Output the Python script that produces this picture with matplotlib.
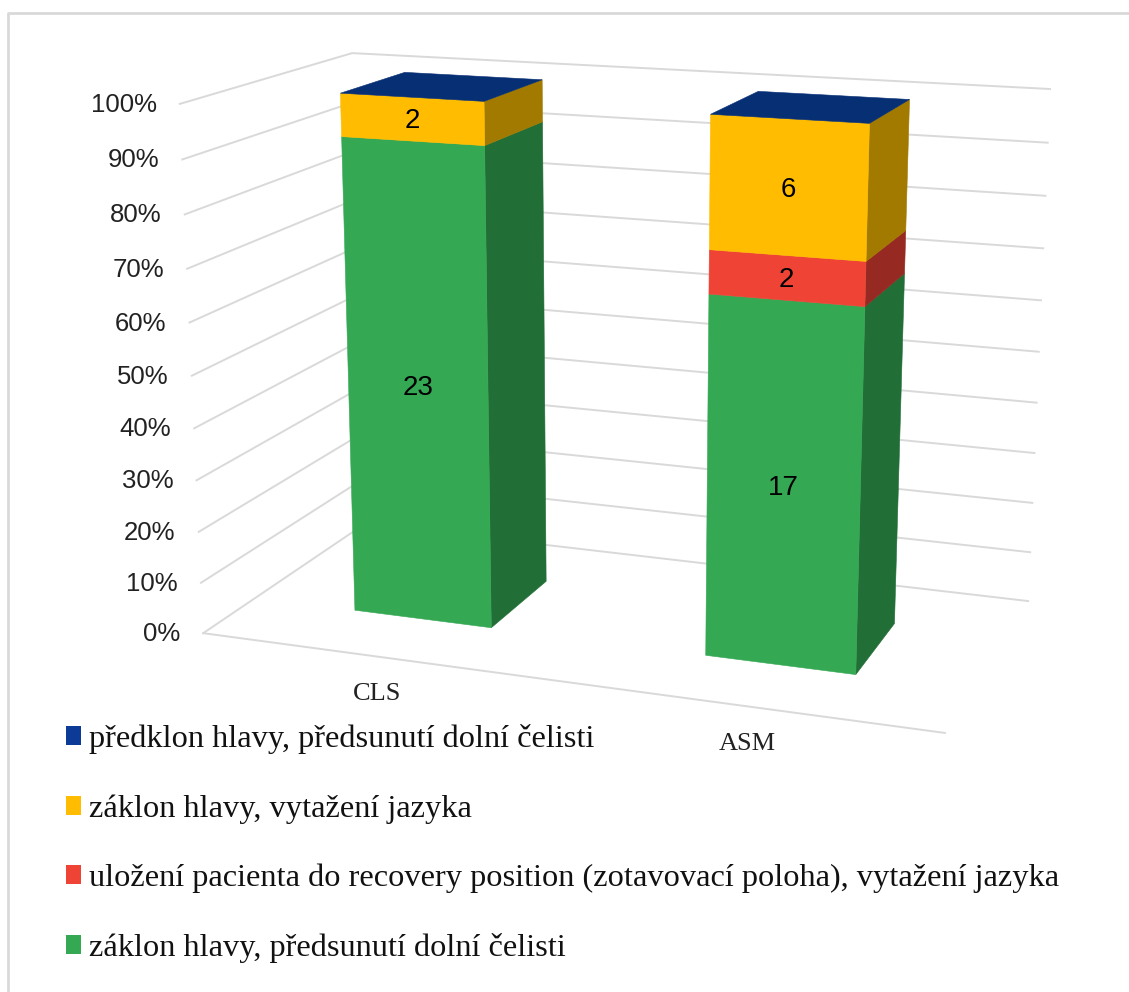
import numpy as np
from matplotlib import pyplot as plt
from matplotlib.patches import Patch

categories = ['CLS', 'ASM']
series_names = [
    'záklon hlavy, předsunutí dolní čelisti',
    'uložení pacienta do recovery position (zotavovací poloha), vytažení jazyka',
    'záklon hlavy, vytažení jazyka',
    'předklon hlavy, předsunutí dolní čelisti',
]
green_counts = [23, 17]
red_counts = [0, 2]
yellow_counts = [2, 6]
blue_counts = [0, 0]
tick_values = [0, 10, 20, 30, 40, 50, 60, 70, 80, 90, 100]

front_colors = ['#34A853', '#EE4335', '#FFBC00', '#0B3A97']
side_colors = ['#226E37', '#962A22', '#A27A00', '#072F74']
grid_color = '#D9D9D9'

# box corners (x, depth, percent) and where they land on the canvas, used to fit the camera
world_frame = [(0, 0, 0), (0, 0, 100), (0, 1, 100), (1, 1, 100), (1, 1, 0), (1, 0, 0), (0, 1, 0)]
canvas_frame = [(203, 633), (180, 104), (352, 53), (1050, 89), (1028, 601), (945, 733), (365, 524)]


def fit_camera(world, canvas):
    rows = []
    for (x, y, z), (u, v) in zip(world, canvas):
        p = [x, y, z / 100, 1]
        rows.append(p + [0, 0, 0, 0] + [-u * c for c in p])
        rows.append([0, 0, 0, 0] + p + [-v * c for c in p])
    return np.linalg.svd(np.array(rows, dtype=float))[2][-1].reshape(3, 4)


camera = fit_camera(world_frame, canvas_frame)


def project(x, y, z):
    u, v, w = camera @ np.array([x, y, z / 100, 1.0])
    return u / w, v / w


def draw_face(ax, corners, color):
    pts = [project(*c) for c in corners]
    ax.fill([p[0] for p in pts], [p[1] for p in pts], color=color, lw=0.4, zorder=3)


plt.rcParams['font.family'] = ['Liberation Sans', 'DejaVu Sans']

fig = plt.figure(figsize=(11.29, 9.92), dpi=100)
ax = fig.add_axes([0, 0, 1, 1])
ax.set_xlim(0, 1129)
ax.set_ylim(992, 0)
ax.axis('off')

# outer frame, open on the right and at the bottom
ax.plot([8, 8, 1129], [992, 13, 13], color=grid_color, lw=2)

# wall gridlines and the floor edge
for tick in tick_values:
    pts = [project(0, 0, tick), project(0, 1, tick), project(1, 1, tick)]
    ax.plot([p[0] for p in pts], [p[1] for p in pts], color=grid_color, lw=1.4, zorder=1)
    ax.text(pts[0][0] - 23, pts[0][1] + 1, f'{tick}%', ha='right', va='center',
            fontsize=18.5, color='#222222')
floor = [project(0, 0, 0), project(1, 0, 0)]
ax.plot([p[0] for p in floor], [p[1] for p in floor], color=grid_color, lw=1.4, zorder=1)

bar_width = 0.2
depth_front = 0.3
depth_back = 0.7
stacks = np.array([green_counts, red_counts, yellow_counts, blue_counts], dtype=float)
percents = stacks / stacks.sum(axis=0) * 100

for cat_idx, cat in enumerate(categories):
    center = 0.25 + 0.5 * cat_idx
    x0, x1 = center - bar_width / 2, center + bar_width / 2
    bottom = 0.0
    for s_idx in range(len(series_names)):
        height = percents[s_idx, cat_idx]
        top = bottom + height
        if height > 0:
            draw_face(ax, [(x1, depth_front, bottom), (x1, depth_back, bottom),
                           (x1, depth_back, top), (x1, depth_front, top)], side_colors[s_idx])
            draw_face(ax, [(x0, depth_front, bottom), (x1, depth_front, bottom),
                           (x1, depth_front, top), (x0, depth_front, top)], front_colors[s_idx])
            lx, ly = project(center, depth_front, bottom + height / 2)
            ax.text(lx, ly + 2, f'{stacks[s_idx, cat_idx]:.0f}', ha='center', va='center',
                    fontsize=20, color='black', zorder=5)
        bottom = top
    # the empty top series only shows as the lid of the bar
    draw_face(ax, [(x0, depth_front, 100), (x1, depth_front, 100),
                   (x1, depth_back, 100), (x0, depth_back, 100)], side_colors[-1])

    lx, ly = project(center, 0, 0)
    ax.text(lx + 2, ly + 38, cat, ha='center', va='center', fontsize=19,
            family=['Liberation Serif', 'DejaVu Serif'], color='#222222')

handles = [Patch(facecolor=front_colors[i], label=series_names[i]) for i in [3, 2, 1, 0]]
ax.legend(handles=handles, loc='upper left', bbox_to_anchor=(66 / 1129, 1 - 724 / 992),
          frameon=False, prop={'family': 'Liberation Serif', 'size': 23.3},
          handlelength=0.46, handleheight=0.52, handletextpad=0.25, labelspacing=1.24,
          borderaxespad=0, borderpad=0, labelcolor='#111111')

fig.savefig('out.png', dpi=100)
plt.close(fig)
